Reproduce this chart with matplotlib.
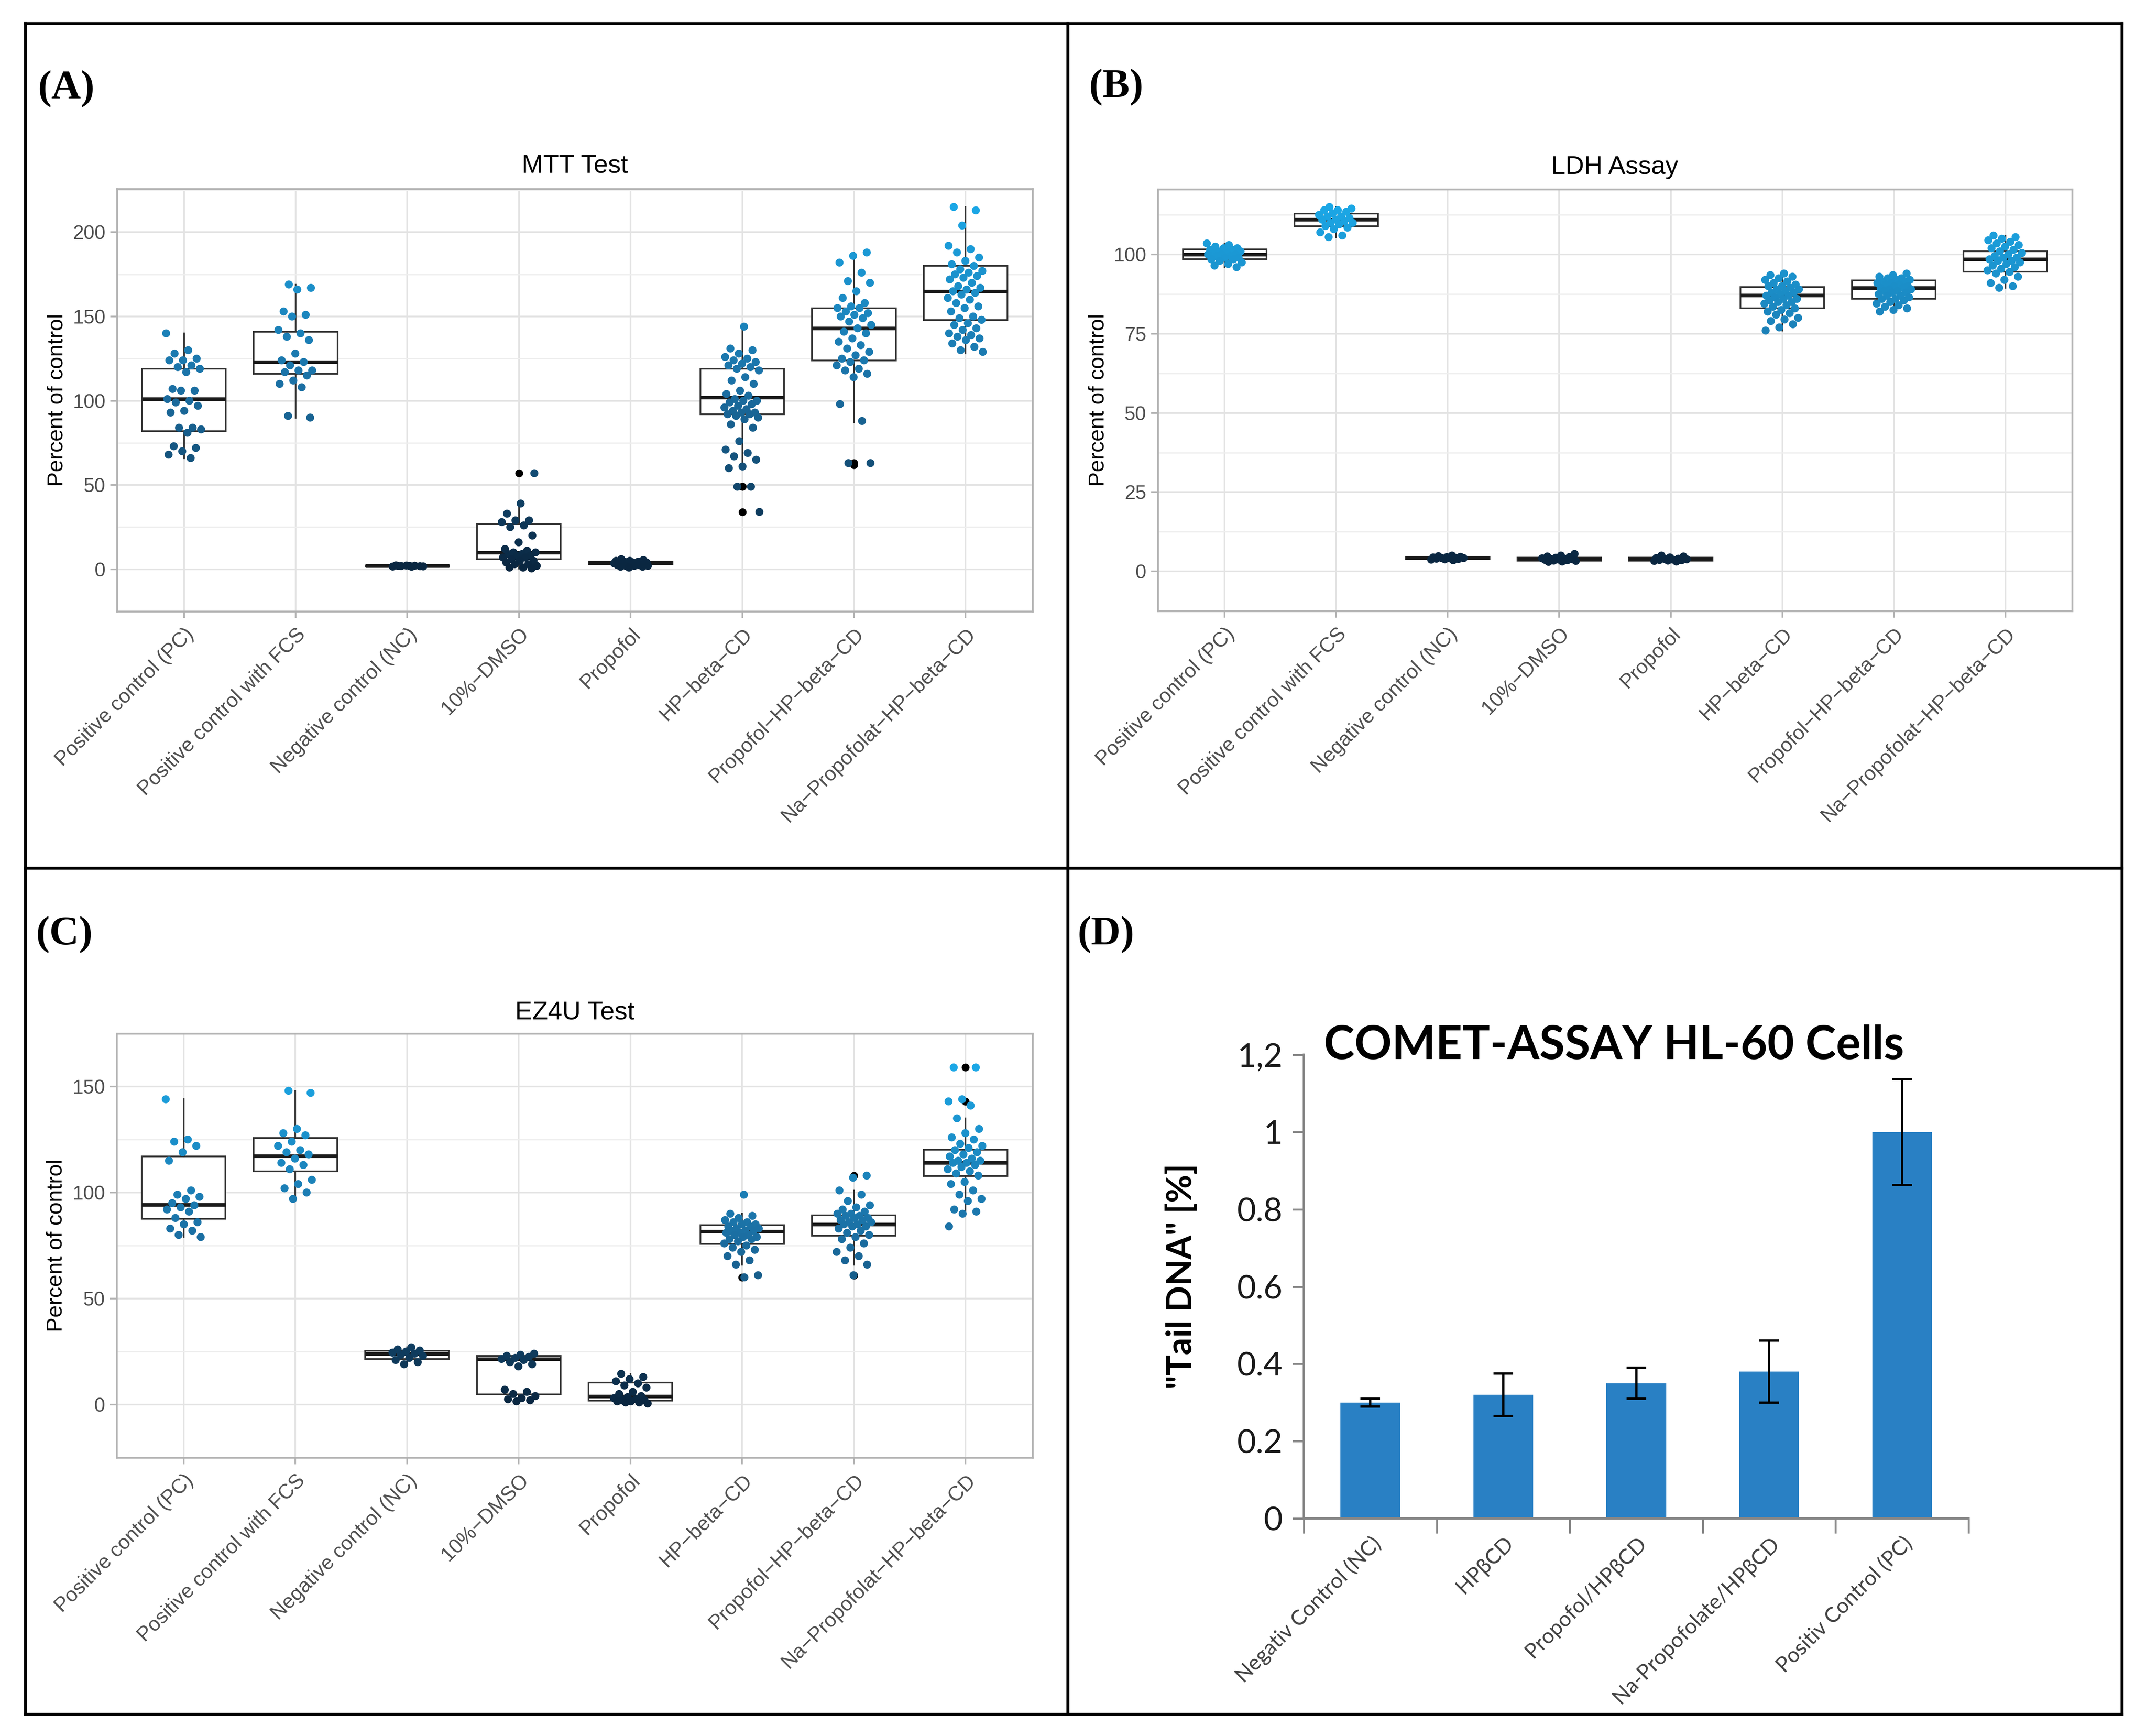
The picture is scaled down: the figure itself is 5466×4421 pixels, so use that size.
import numpy as np
import matplotlib
matplotlib.use('Agg')
import matplotlib.pyplot as plt
from matplotlib.colors import LinearSegmentedColormap, Normalize
from matplotlib.lines import Line2D

W, H = 5466, 4421
DPI = 300

# ---------------- data ----------------
groups = ['Positive control (PC)', 'Positive control with FCS', 'Negative control (NC)',
          '10%\u2212DMSO', 'Propofol', 'HP\u2212beta\u2212CD', 'Propofol\u2212HP\u2212beta\u2212CD',
          'Na\u2212Propofolat\u2212HP\u2212beta\u2212CD']

# MTT test: individual points per group
mtt_points = [
    [140, 130, 128, 125, 124, 124, 121, 120, 119, 117, 107, 106, 106, 101, 100, 99, 97, 94, 93,
     84, 84, 83, 81, 73, 72, 70, 68, 66],
    [169, 167, 166, 153, 151, 150, 142, 140, 138, 136, 128, 124, 123, 121, 118, 118, 117, 115,
     112, 110, 108, 91, 90],
    [1.5, 2.0, 1.8, 2.2, 1.6, 2.1, 1.9, 1.7, 2.0, 2.3],
    [57, 39, 33, 29, 29, 28, 26, 25, 20, 16, 12, 11, 10, 10, 9, 9, 8, 8, 7, 7, 6, 5, 5, 4, 3, 3,
     2, 1, 1, 0.5],
    [6, 5.5, 5, 5, 4.5, 4.5, 4, 4, 4, 4, 3.5, 3.5, 3.5, 3, 3, 3, 2.5, 2.5, 2, 2, 2, 1.5, 1.5, 1],
    [144, 131, 130, 128, 126, 125, 124, 123, 122, 121, 120, 119, 118, 114, 112, 110, 106, 104,
     103, 101, 100, 100, 99, 98, 97, 96, 95, 94, 93, 93, 92, 92, 91, 90, 89, 86, 84, 76, 71, 69,
     67, 65, 61, 60, 49, 49, 34],
    [188, 186, 182, 176, 171, 170, 165, 161, 158, 156, 155, 155, 153, 152, 151, 150, 149, 147,
     145, 143, 141, 140, 137, 135, 133, 131, 129, 127, 125, 124, 123, 121, 119, 118, 116, 114,
     98, 88, 63, 63],
    [215, 213, 204, 192, 190, 188, 185, 183, 181, 180, 178, 177, 176, 175, 174, 173, 172, 170,
     168, 167, 166, 165, 164, 163, 161, 160, 158, 156, 155, 153, 150, 149, 148, 146, 145, 143,
     142, 140, 139, 138, 137, 136, 134, 132, 130, 129],
]
mtt_q1 = [82, 116, 1.6, 6, 3, 92, 124, 148]
mtt_med = [101, 123, 2.0, 10, 4, 102, 143, 165]
mtt_q3 = [119, 141, 2.3, 27, 4.6, 119, 155, 180]
mtt_lo = [66, 90, 1.5, 0.5, 1, 60, 87, 128]
mtt_hi = [140, 169, 2.3, 39, 6, 144, 188, 215]
mtt_out = [[], [], [], [57], [], [49, 49, 34], [63, 62], []]

# LDH assay
ldh_points = [
    [103.5, 103, 102.5, 102, 102, 101.5, 101.5, 101, 101, 100.5, 100.5, 100, 100, 100, 99.5,
     99.5, 99, 99, 98.5, 98.5, 98, 97.5, 97, 96.5, 96],
    [115, 114.5, 114, 114, 113.5, 113, 112.5, 112, 112, 111.5, 111, 111, 110.5, 110, 110, 109.5,
     109, 108.5, 108, 107, 106, 105.5],
    [5, 4.8, 4.6, 4.5, 4.4, 4.3, 4.2, 4.2, 4.1, 4.0, 3.9, 3.8, 3.7, 3.5],
    [5.5, 5, 4.7, 4.5, 4.3, 4.1, 4.0, 3.9, 3.8, 3.7, 3.6, 3.5, 3.4, 3.3, 3.1, 3.0],
    [5, 4.7, 4.4, 4.2, 4.0, 3.9, 3.8, 3.7, 3.6, 3.5, 3.4, 3.3, 3.1],
    [94, 93.5, 93, 92.5, 92, 91.5, 91, 90.5, 90, 90, 89.5, 89, 89, 88.5, 88, 88, 87.5, 87, 87,
     86.5, 86, 86, 85.5, 85, 85, 84.5, 84, 83.5, 83, 82.5, 82, 81.5, 81, 80, 79.5, 79, 78, 77, 76],
    [94, 93.5, 93, 92.5, 92.5, 92, 92, 91.5, 91.5, 91, 91, 90.5, 90.5, 90, 90, 89.5, 89.5, 89,
     89, 88.5, 88.5, 88, 88, 87.5, 87, 87, 86.5, 86, 86, 85.5, 85, 84.5, 84, 83.5, 83, 82.5, 82],
    [106, 105.5, 105, 104.5, 104, 103.5, 103, 102.5, 102, 101.5, 101, 100.5, 100, 99.5, 99, 99,
     98.5, 98, 98, 97.5, 97, 96.5, 96, 95.5, 95, 94.5, 94, 93, 92, 91, 90, 89.5],
]
ldh_q1 = [98.6, 108.9, 3.9, 3.4, 3.4, 83.1, 86.0, 94.6]
ldh_med = [100.0, 111.1, 4.2, 3.9, 3.8, 87.2, 89.5, 98.6]
ldh_q3 = [101.6, 112.9, 4.6, 4.4, 4.3, 89.7, 91.8, 101.0]
ldh_lo = [96, 105.5, 3.5, 3.0, 3.1, 76, 82, 89.5]
ldh_hi = [103.5, 115, 5.0, 5.5, 5.0, 94, 94, 106]

# EZ4U test
ez_points = [
    [144, 125, 124, 122, 119, 115, 101, 99, 98, 97, 95, 94, 93, 92, 91, 88, 86, 85, 83, 82, 80, 79],
    [148, 147, 130, 128, 127, 124, 122, 120, 119, 118, 116, 114, 113, 111, 106, 104, 102, 100, 97],
    [27, 26, 25.5, 25, 24.5, 24, 23.5, 23, 22, 21, 20, 19],
    [24, 23.5, 23, 22.5, 22, 21.5, 21, 20, 19, 18, 7, 6, 5, 4, 3, 2.5, 2, 1.5],
    [14.5, 13, 12, 11, 10, 9, 8, 6, 5, 4, 3.5, 3, 2.5, 2, 2, 1.5, 1.5, 1, 1, 0.5],
    [99, 90, 89, 88, 87, 86, 86, 85, 85, 84, 84, 83, 83, 82, 82, 82, 81, 81, 80, 80, 79, 79, 78,
     78, 77, 76, 75, 74, 73, 72, 70, 68, 66, 61, 60],
    [108, 107, 101, 99, 96, 94, 93, 92, 91, 90, 90, 89, 89, 88, 88, 87, 87, 86, 86, 85, 85, 84,
     84, 83, 82, 81, 80, 79, 78, 76, 74, 72, 70, 68, 66, 61],
    [159, 159, 144, 143, 141, 135, 130, 128, 126, 125, 123, 122, 121, 120, 119, 118, 117, 116,
     115, 115, 114, 114, 113, 112, 111, 110, 109, 108, 105, 104, 101, 99, 97, 96, 92, 91, 90, 84],
]
ez_q1 = [87.6, 110, 21.5, 4.8, 1.8, 75.7, 79.6, 107.8]
ez_med = [94.3, 117.2, 23.8, 21.5, 3.9, 81.6, 85.0, 114.0]
ez_q3 = [117, 125.8, 25.3, 23.0, 10.3, 84.7, 89.2, 120.2]
ez_lo = [79, 97, 19, 1.5, 0.5, 66, 66, 90]
ez_hi = [144, 148, 27, 24, 14.5, 90, 101, 135]
ez_out = [[], [], [], [], [], [60], [108, 61], [159, 143]]

# COMET assay
comet_labels = ['Negativ Control (NC)', 'HP\u03b2CD', 'Propofol/HP\u03b2CD',
                'Na-Propofolate/HP\u03b2CD', 'Positiv Control (PC)']
comet_mean = [0.30, 0.32, 0.35, 0.38, 1.00]
comet_err = [0.01, 0.055, 0.04, 0.08, 0.137]

# ---------------- styling ----------------
GG_FONT = ['Liberation Sans', 'DejaVu Sans']
XL_FONT = ['Lato', 'DejaVu Sans']
cmap = LinearSegmentedColormap.from_list('gg', ['#0A2640', '#1B6FA3', '#1BA7E6'])

fig = plt.figure(figsize=(W / DPI, H / DPI), dpi=DPI)


def fx(x):
    return x / W


def fy(y):
    return 1 - y / H


def make_ax(left, right, top, bottom):
    return fig.add_axes([fx(left), fy(bottom), fx(right) - fx(left), (bottom - top) / H])


def gg_panel(ax, points, q1, med, q3, lo, hi, out, ylim, yticks, title, cx, ty, ylx):
    pos = np.arange(1, len(groups) + 1)
    stats = []
    for i in range(len(groups)):
        stats.append(dict(med=med[i], q1=q1[i], q3=q3[i], whislo=lo[i], whishi=hi[i],
                          fliers=out[i]))
    ax.bxp(stats, positions=pos, widths=0.75, showcaps=False, patch_artist=True,
           boxprops=dict(facecolor='white', edgecolor='#333333', linewidth=1.0),
           medianprops=dict(color='#1a1a1a', linewidth=2.2),
           whiskerprops=dict(color='#333333', linewidth=1.0),
           flierprops=dict(marker='o', markerfacecolor='black', markeredgecolor='none',
                           markersize=4.8), zorder=2)
    allv = np.concatenate([np.asarray(p, float) for p in points])
    norm = Normalize(allv.min(), allv.max())
    for i, vals in enumerate(points):
        vals = np.asarray(vals, float)
        k = np.arange(len(vals))
        offs = ((k * 0.6180339887 + 0.31 * i) % 1.0 - 0.5) * 0.32
        ax.scatter(pos[i] + offs, vals, s=24, c=cmap(norm(vals)), edgecolors='none', zorder=3)
    ax.set_xlim(0.4, len(groups) + 0.6)
    ax.set_ylim(*ylim)
    ax.set_yticks(yticks)
    step = yticks[1] - yticks[0]
    ax.set_yticks(np.arange(yticks[0] - step / 2, yticks[-1] + step, step), minor=True)
    ax.set_xticks(pos)
    ax.set_xticklabels(groups, rotation=45, ha='right', va='top', rotation_mode='anchor',
                       fontsize=12.5, family=GG_FONT, color='#4d4d4d')
    for lab in ax.get_yticklabels():
        lab.set_family(GG_FONT)
    ax.tick_params(axis='y', labelsize=12, labelcolor='#4d4d4d', color='#b3b3b3', length=4,
                   width=1.0, pad=3)
    ax.tick_params(axis='x', color='#b3b3b3', length=4, width=1.0, pad=4)
    ax.tick_params(which='minor', length=0)
    ax.grid(True, which='major', color='#e3e3e3', linewidth=1.0, zorder=0)
    ax.grid(True, which='minor', axis='y', color='#eeeeee', linewidth=0.8, zorder=0)
    ax.set_axisbelow(True)
    for s in ax.spines.values():
        s.set_color('#b3b3b3')
        s.set_linewidth(1.1)
    fig.text(fx(cx), fy(ty), title, ha='center', va='center', fontsize=15.7, family=GG_FONT)
    pos_ax = ax.get_position()
    fig.text(fx(ylx), (pos_ax.y0 + pos_ax.y1) / 2, 'Percent of control', rotation=90,
             ha='center', va='center', fontsize=13.5, family=GG_FONT)


# (A) MTT
axA = make_ax(298, 2630, 481, 1557)
gg_panel(axA, mtt_points, mtt_q1, mtt_med, mtt_q3, mtt_lo, mtt_hi, mtt_out,
         (-10.75, 225.75), [0, 50, 100, 150, 200], 'MTT Test', 1464, 423, 146)

# (B) LDH
axB = make_ax(2949, 5278, 482, 1556)
gg_panel(axB, ldh_points, ldh_q1, ldh_med, ldh_q3, ldh_lo, ldh_hi, [[] for _ in groups],
         (-2.2, 120.6), [0, 25, 50, 75, 100], 'LDH Assay', 4113, 426, 2798)

# (C) EZ4U
axC = make_ax(297, 2630, 2632, 3712)
gg_panel(axC, ez_points, ez_q1, ez_med, ez_q3, ez_lo, ez_hi, ez_out,
         (-7.4, 167.4), [0, 50, 100, 150], 'EZ4U Test', 1464, 2578, 143)

# (D) COMET bar chart
axD = make_ax(3321, 5014, 2686, 3867)
xd = np.arange(len(comet_labels))
axD.bar(xd, comet_mean, width=0.45, color='#2980c4', zorder=2)
axD.errorbar(xd, comet_mean, yerr=comet_err, fmt='none', ecolor='black', elinewidth=1.4,
             capsize=6, capthick=1.4, zorder=3)
axD.set_xlim(-0.5, len(comet_labels) - 0.5)
axD.set_ylim(0, 1.2)
axD.set_yticks([0, 0.2, 0.4, 0.6, 0.8, 1.0, 1.2])
axD.set_yticklabels(['0', '0.2', '0.4', '0.6', '0.8', '1', '1,2'], family=XL_FONT)
axD.set_xticks(xd)
axD.set_xticklabels(comet_labels, rotation=45, ha='right', va='top', rotation_mode='anchor',
                    fontsize=13, family=XL_FONT, color='#404040')
axD.set_xticks(np.arange(-0.5, len(comet_labels)), minor=True)
axD.tick_params(axis='x', which='major', length=0, pad=9)
axD.tick_params(axis='x', which='minor', length=9, color='#868686', width=1.2)
axD.tick_params(axis='y', labelsize=20, color='#868686', length=7, width=1.2, pad=6,
                labelcolor='#1a1a1a')
for s in ['top', 'right']:
    axD.spines[s].set_visible(False)
for s in ['left', 'bottom']:
    axD.spines[s].set_color('#868686')
    axD.spines[s].set_linewidth(1.4)
fig.text(fx(4111), fy(2663), 'COMET-ASSAY HL-60 Cells', ha='center', va='center',
         fontsize=28.3, fontweight='bold', family=XL_FONT)
fig.text(fx(3009), fy(3250), '"Tail DNA" [%]', rotation=90, ha='center', va='center',
         fontsize=21, fontweight='bold', family=XL_FONT)

# panel letters
for lab, x, y in [('(A)', 96, 226), ('(B)', 2773, 222), ('(C)', 91, 2380), ('(D)', 2744, 2380)]:
    fig.text(fx(x), fy(y), lab, ha='left', va='center', fontsize=25, fontweight='bold',
             family=['Liberation Serif', 'DejaVu Serif'])

# frame grid
L, R, T, B = 65, 5405, 60, 4366
MX, MY = 2720, 2211
lw = 1.8
for (x0, y0, x1, y1) in [(L, T, R, T), (L, B, R, B), (L, T, L, B), (R, T, R, B),
                         (MX, T, MX, B), (L, MY, R, MY)]:
    fig.add_artist(Line2D([fx(x0), fx(x1)], [fy(y0), fy(y1)], color='black', linewidth=lw,
                          transform=fig.transFigure))

fig.savefig('out.png', dpi=DPI)
